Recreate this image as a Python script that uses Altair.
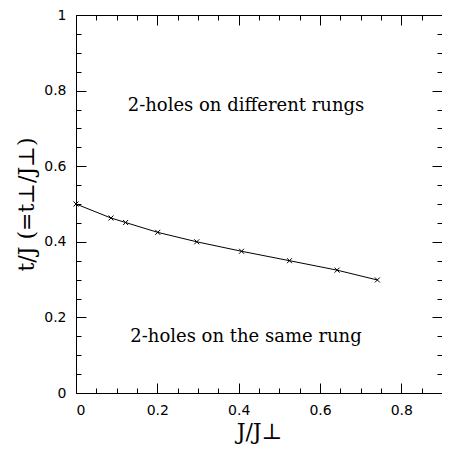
import altair as alt
import pandas as pd

# data
x_vals = [0.0, 0.086, 0.122, 0.201, 0.297, 0.407, 0.525, 0.642, 0.741]
y_vals = [0.5, 0.463, 0.451, 0.425, 0.4, 0.375, 0.35, 0.325, 0.299]

x_major = [0, 0.2, 0.4, 0.6, 0.8]
x_minor = [0.05, 0.1, 0.15, 0.25, 0.3, 0.35, 0.45, 0.5, 0.55, 0.65, 0.7, 0.75, 0.85]
y_major = [0, 0.2, 0.4, 0.6, 0.8, 1]
y_minor = [0.05, 0.1, 0.15, 0.25, 0.3, 0.35, 0.45, 0.5, 0.55, 0.65, 0.7, 0.75, 0.85, 0.9, 0.95]

note_text = ["2-holes on different rungs", "2-holes on the same rung"]
note_x = [0.418, 0.418]
note_y = [0.76, 0.148]

x_title = "J/J\u22a5"
y_title = "t/J (=t\u22a5/J\u22a5)"

df = pd.DataFrame({"x": x_vals, "y": y_vals})
notes = pd.DataFrame({"text": note_text, "x": note_x, "y": note_y})

xs = alt.Scale(domain=[0, 0.9], nice=False, zero=False)
ys = alt.Scale(domain=[0, 1], nice=False, zero=False)


def ax(orient, values, size, labels=False, title=None, **kw):
    return alt.Axis(orient=orient, values=values, tickSize=size, offset=-size,
                    labels=labels, title=title, domain=False, grid=False, **kw)


base = alt.Chart(df)

line = base.mark_line(color="black", strokeWidth=1).encode(
    x=alt.X("x:Q", scale=xs, axis=ax("bottom", x_major, 10, True, x_title,
                                     titlePadding=4, format="~g")),
    y=alt.Y("y:Q", scale=ys, axis=ax("left", y_major, 10, True, y_title,
                                     titlePadding=5, format="~g")),
)

pts = base.mark_point(shape="M-1,-1L1,1M-1,1L1,-1", size=25, filled=False,
                      color="black", strokeWidth=1, opacity=1).encode(
    x=alt.X("x:Q", scale=xs, axis=ax("bottom", x_minor, 5)),
    y=alt.Y("y:Q", scale=ys, axis=ax("left", y_minor, 5)),
)

top_major = base.mark_point(opacity=0).encode(
    x=alt.X("x:Q", scale=xs, axis=ax("top", x_major, 10)),
    y=alt.Y("y:Q", scale=ys, axis=ax("right", y_major, 10)),
)

top_minor = base.mark_point(opacity=0).encode(
    x=alt.X("x:Q", scale=xs, axis=ax("top", x_minor, 5)),
    y=alt.Y("y:Q", scale=ys, axis=ax("right", y_minor, 5)),
)

text = alt.Chart(notes).mark_text(font="DejaVu Serif", fontSize=18,
                                  color="black").encode(
    x=alt.X("x:Q", scale=xs, axis=None),
    y=alt.Y("y:Q", scale=ys, axis=None),
    text="text:N",
)

chart = alt.layer(line, pts, top_major, top_minor, text).resolve_axis(
    x="independent", y="independent"
).properties(
    width=366, height=378,
    autosize=alt.AutoSizeParams(type="none"),
    padding={"left": 68, "top": 7, "right": 0, "bottom": 52},
    background="white",
).configure_view(
    stroke="black", strokeWidth=1
).configure_axis(
    tickColor="black", tickWidth=1, labelColor="black", titleColor="black",
    labelFont="DejaVu Sans", labelFontSize=14, labelPadding=10,
    titleFont="DejaVu Serif", titleFontSize=22, titleFontWeight="normal",
)

chart.save("out.html", embed_options={"renderer": "svg", "actions": False})
